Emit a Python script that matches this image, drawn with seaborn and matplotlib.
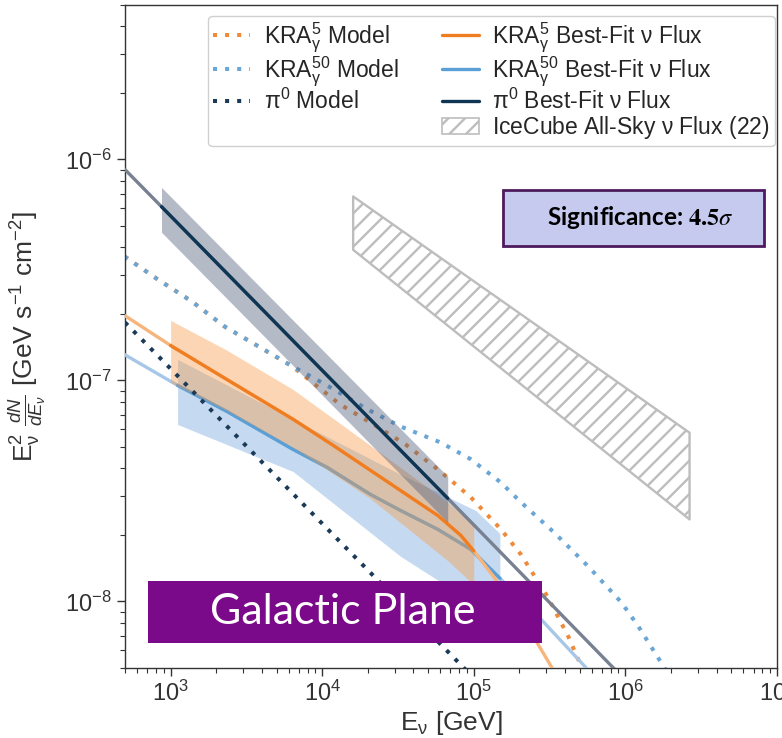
import numpy as np
import matplotlib
matplotlib.use("Agg")
import matplotlib.pyplot as plt
from matplotlib.lines import Line2D
from matplotlib.patches import Patch, Rectangle
from matplotlib.legend_handler import HandlerLine2D
import seaborn as sns

# values: E in GeV, flux = E^2 dN/dE in GeV s^-1 cm^-2
kra5_model_E = [496, 820, 1377, 2280, 3770, 6320, 13150, 20800, 35500, 60400,
                95500, 151000, 204700, 309300, 419600, 511700, 595000]
kra5_model_F = [3.64e-7, 2.87e-7, 2.28e-7, 1.75e-7, 1.43e-7, 1.16e-7, 7.78e-8, 6.45e-8, 5.13e-8, 3.87e-8,
                2.96e-8, 2.12e-8, 1.63e-8, 1.04e-8, 6.95e-9, 5.08e-9, 4.0e-9]
kra50_model_E = [496, 820, 1377, 2280, 3770, 6320, 10470, 19870, 32860, 60400,
                 95500, 151000, 204700, 338800, 569000, 941000, 1.219e6, 1.811e6, 2.35e6]
kra50_model_F = [3.64e-7, 2.87e-7, 2.28e-7, 1.75e-7, 1.43e-7, 1.16e-7, 9.6e-8, 7.4e-8, 6.19e-8, 5.24e-8,
                 4.40e-8, 3.45e-8, 2.81e-8, 2.05e-8, 1.44e-8, 9.9e-9, 7.7e-9, 5.0e-9, 3.6e-9]
pi0_model_E = [500, 1e3, 1e4, 1e5]
pi0_model_F = [1.83e-7, 1.13e-7, 2.25e-8, 4.5e-9]

kra5_fit_E = [496, 1015, 2350, 6430, 11830, 20800, 34400, 57800, 82100, 101600,
              135600, 221000, 328500, 376600]
kra5_fit_F = [1.97e-7, 1.43e-7, 1.01e-7, 6.67e-8, 5.08e-8, 3.92e-8, 3.11e-8, 2.45e-8, 1.99e-8, 1.67e-8,
              1.29e-8, 7.9e-9, 5.0e-9, 4.0e-9]
kra5_range = (1e3, 1e5)
kra50_fit_E = [496, 1112, 2350, 6430, 10790, 20800, 32860, 57800, 95500, 144200,
               277700, 552000, 643000]
kra50_fit_F = [1.31e-7, 9.5e-8, 7.24e-8, 4.87e-8, 4.04e-8, 3.05e-8, 2.58e-8, 2.12e-8, 1.72e-8, 1.30e-8,
               8.3e-9, 5.0e-9, 4.44e-9]
kra50_range = (1.11e3, 1.49e5)
pi0_fit_E = [500, 1e3, 1e4, 1e5, 1e6]
pi0_fit_F = [9.0e-7, 5.55e-7, 1.11e-7, 2.22e-8, 4.4e-9]
pi0_range = (871, 6.73e4)

kra5_band_E = [1000, 2350, 6430, 20800, 67300, 1e5]
kra5_band_hi = [1.87e-7, 1.37e-7, 9.1e-8, 5.08e-8, 2.81e-8, 2.25e-8]
kra5_band_lo = [9.8e-8, 7.31e-8, 4.98e-8, 2.92e-8, 1.53e-8, 1.19e-8]
kra50_band_E = [1112, 6430, 32860, 103000, 148600]
kra50_band_hi = [1.245e-7, 6.67e-8, 3.76e-8, 2.58e-8, 2.03e-8]
kra50_band_lo = [6.32e-8, 3.87e-8, 1.60e-8, 9.7e-9, 8.1e-9]
pi0_band_E = [871, 67300]
pi0_band_hi = [7.47e-7, 3.68e-8]
pi0_band_lo = [4.68e-7, 2.28e-8]

icecube_E = [16000, 2.65e6]
icecube_hi = [6.8e-7, 5.8e-8]
icecube_lo = [3.9e-7, 2.35e-8]

labels = [r"KRA$_\mathrm{\gamma}^5$ Model", r"KRA$_\mathrm{\gamma}^{50}$ Model", r"$\mathrm{\pi}^0$ Model", " ",
          r"KRA$_\mathrm{\gamma}^5$ Best-Fit $\mathrm{\nu}$ Flux",
          r"KRA$_\mathrm{\gamma}^{50}$ Best-Fit $\mathrm{\nu}$ Flux",
          r"$\mathrm{\pi}^0$ Best-Fit $\mathrm{\nu}$ Flux", r"IceCube All-Sky $\mathrm{\nu}$ Flux (22)"]

orange, orange_lt, orange_dot = "#ef7d22", "#f7b57c", "#ee8a3a"
blue, blue_lt, blue_dot = "#5a9fd6", "#a6c7e8", "#6aa6d6"
navy, gray, navy_dot = "#0e3654", "#788191", "#1b3a57"
dot = (0, (1, 2))


def clip(E, F, lo, hi):
    # cut a drawn curve to its fit range (log-log interpolation at the ends)
    lE, lF = np.log10(E), np.log10(F)
    keep = (np.asarray(E) > lo) & (np.asarray(E) < hi)
    xs = np.r_[np.log10(lo), lE[keep], np.log10(hi)]
    return 10 ** xs, 10 ** np.interp(xs, lE, lF)


class LongLine(HandlerLine2D):
    def create_artists(self, legend, orig_handle, xdescent, ydescent, width, height, fontsize, trans):
        arts = super().create_artists(legend, orig_handle, xdescent, ydescent, width, height, fontsize, trans)
        for a in arts:
            x = a.get_xdata()
            if len(x) == 2:
                a.set_xdata([x[0] - 1.9 * fontsize, x[1]])
        return arts


sns.set_style("ticks")
plt.rcParams["font.family"] = ["Liberation Sans", "DejaVu Sans"]
plt.rcParams["mathtext.fontset"] = "custom"
plt.rcParams["mathtext.rm"] = "Liberation Sans"
plt.rcParams["mathtext.it"] = "Liberation Sans:italic"
plt.rcParams["mathtext.bf"] = "Liberation Sans:bold"
plt.rcParams["hatch.linewidth"] = 1.7

fig = plt.figure(figsize=(7.82, 7.38), dpi=100)
ax = fig.add_axes([0.1598, 0.0949, 0.8338, 0.8984])
ax.set(xscale="log", yscale="log")

# IceCube all-sky band
ax.fill_between(icecube_E, icecube_lo, icecube_hi, facecolor="none", edgecolor="#bdbdbd",
                hatch="//", lw=1.7, zorder=1)

# model curves
sns.lineplot(x=kra5_model_E, y=kra5_model_F, ax=ax, color=orange_dot, lw=2.9, linestyle=dot, zorder=2)
sns.lineplot(x=kra50_model_E, y=kra50_model_F, ax=ax, color=blue_dot, lw=2.9, linestyle=dot, zorder=2.1)
sns.lineplot(x=pi0_model_E, y=pi0_model_F, ax=ax, color=navy_dot, lw=2.9, linestyle=dot, zorder=6)

# KRA50 best fit
ax.fill_between(kra50_band_E, kra50_band_lo, kra50_band_hi, color="#6fa3db", alpha=0.4, lw=0, zorder=3)
sns.lineplot(x=kra50_fit_E, y=kra50_fit_F, ax=ax, color=blue_lt, lw=2.4, zorder=3.4)
x, y = clip(kra50_fit_E, kra50_fit_F, *kra50_range)
sns.lineplot(x=x, y=y, ax=ax, color=blue, lw=2.4, zorder=3.5)

# KRA5 best fit
ax.fill_between(kra5_band_E, kra5_band_lo, kra5_band_hi, color="#f99a45", alpha=0.4, lw=0, zorder=4)
sns.lineplot(x=kra5_fit_E, y=kra5_fit_F, ax=ax, color=orange_lt, lw=2.4, zorder=4.4)
x, y = clip(kra5_fit_E, kra5_fit_F, *kra5_range)
sns.lineplot(x=x, y=y, ax=ax, color=orange, lw=2.4, zorder=4.5)

# pi0 best fit
ax.fill_between(pi0_band_E, pi0_band_lo, pi0_band_hi, color="#4e5d7a", alpha=0.42, lw=0, zorder=5)
sns.lineplot(x=pi0_fit_E, y=pi0_fit_F, ax=ax, color=gray, lw=2.4, zorder=5.4)
x, y = clip(pi0_fit_E, pi0_fit_F, *pi0_range)
sns.lineplot(x=x, y=y, ax=ax, color=navy, lw=2.4, zorder=5.5)

ax.set_xlim(500, 1e7)
ax.set_ylim(5e-9, 5e-6)

ax.set_xlabel(r"E$_\mathrm{\nu}$ [GeV]", fontsize=19, color="#333333", labelpad=2)
ax.set_ylabel(r"E$_\mathrm{\nu}^2$ $\frac{dN}{dE_\nu}$ [GeV s$^{-1}$ cm$^{-2}$]", fontsize=19,
              color="#333333")
ax.yaxis.set_label_coords(-0.118, 0.5)
ax.tick_params(which="major", length=6, width=1, color="#333333", labelsize=17,
               labelcolor="#333333", top=False, right=False)
ax.tick_params(which="minor", length=3.5, width=0.8, color="#333333", top=False, right=False)
for s in ax.spines.values():
    s.set_color("#333333")
    s.set_linewidth(1.0)

# legend
h_m5 = Line2D([], [], color=orange_dot, lw=2.9, ls=dot)
h_m50 = Line2D([], [], color=blue_dot, lw=2.9, ls=dot)
h_mpi = Line2D([], [], color=navy_dot, lw=2.9, ls=dot)
blank = Line2D([], [], color="none")
h_f5 = Line2D([], [], color=orange, lw=2.4)
h_f50 = Line2D([], [], color=blue, lw=2.4)
h_fpi = Line2D([], [], color=navy, lw=2.4)
h_ice = Patch(facecolor="none", edgecolor="#bdbdbd", hatch="//", lw=1.2)
leg = ax.legend([h_m5, h_m50, h_mpi, blank, h_f5, h_f50, h_fpi, h_ice], labels,
                ncol=2, loc="upper right", bbox_to_anchor=(0.997, 0.984), borderaxespad=0,
                fontsize=16.5, handlelength=1.6, handletextpad=0.6, columnspacing=1.9,
                labelspacing=0.0, borderpad=0.22, fancybox=True, edgecolor="#d0d0d0",
                framealpha=1, labelcolor="#262626",
                handler_map={h_f5: LongLine(), h_f50: LongLine(), h_fpi: LongLine()})
leg.set_zorder(20)

# annotation boxes
ax.add_patch(Rectangle((0.0353, 0.0377), 0.6043, 0.0935, transform=ax.transAxes,
                       facecolor="#7b0a8a", edgecolor="none", zorder=10))
ax.text(0.334, 0.0845, "Galactic Plane", transform=ax.transAxes, ha="center", va="center",
        color="white", fontsize=31, family="Lato", zorder=11)
ax.add_patch(Rectangle((0.580, 0.6365), 0.400, 0.0845, transform=ax.transAxes,
                       facecolor="#c5caee", edgecolor="#4d1a5e", lw=2, zorder=10))
ax.text(0.790, 0.679, r"Significance: $\mathbf{4.5}\sigma$", transform=ax.transAxes,
        ha="center", va="center", color="black", fontsize=17.5, fontweight="bold",
        family="Lato", math_fontfamily="stix", zorder=11)

fig.savefig("out.png", dpi=100)
